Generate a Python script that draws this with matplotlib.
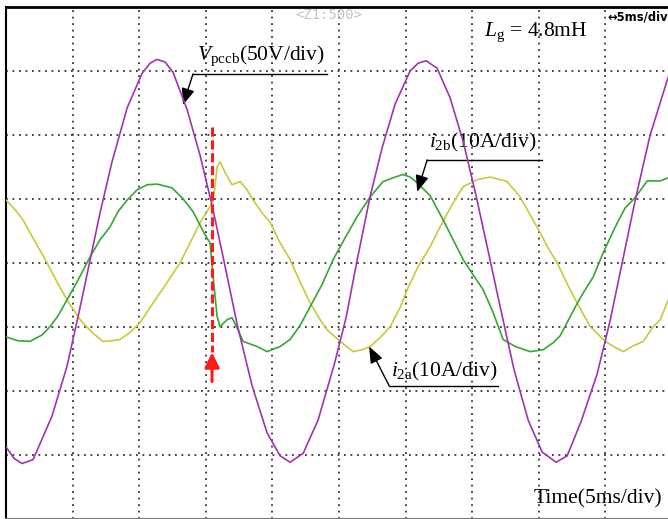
import numpy as np
import matplotlib
matplotlib.use('Agg')
import matplotlib.pyplot as plt

plt.rcParams['font.family'] = ['Liberation Serif', 'DejaVu Sans']
plt.rcParams['mathtext.fontset'] = 'custom'
plt.rcParams['mathtext.rm'] = 'Liberation Serif'
plt.rcParams['mathtext.it'] = 'Liberation Serif:italic'

# scope settings
T_DIV = 5.0     # ms/div
V_DIV = 50.0    # V/div
I_DIV = 10.0    # A/div

# V_pccb trace (time in ms, volts)
t_v = [0.00, 0.60, 1.20, 2.03, 2.70, 3.45, 4.58, 5.56, 6.31, 7.06, 7.96, 9.09,
       10.21, 10.81, 11.34, 11.94, 12.54, 13.59, 14.57, 15.47, 16.37, 17.35,
       18.47, 19.60, 20.58, 21.33, 22.31, 23.43, 24.63, 25.53, 26.36, 27.34,
       28.24, 29.21, 30.34, 30.94, 31.54, 32.37, 33.34, 34.32, 35.30, 36.20,
       37.09, 38.15, 39.20, 40.25, 41.30, 42.13, 43.18, 44.38, 45.36, 46.26,
       47.24, 48.36, 49.71]
v_pccb = [-144, -153, -157, -154, -138, -120, -81, -35, 2, 39, 79, 121,
          148, 156, 159, 157, 149, 120, 84, 45, 1, -48,
          -96, -133, -151, -156, -149, -123, -80, -43, 2, 52,
          90, 124, 150, 156, 158, 152, 129, 95, 52, 9,
          -34, -84, -123, -148, -156, -151, -124, -87, -45, 0,
          49, 100, 145]

# i_2b trace (green), amps
t_b = [0.00, 0.90, 1.80, 2.70, 3.30, 3.91, 4.58, 5.41, 6.31, 7.06, 7.81, 8.41,
       9.09, 9.84, 10.59, 11.34, 11.94, 12.47, 13.29, 14.04, 14.94, 15.32,
       15.55, 15.85, 16.07, 16.60, 16.97, 17.35, 17.80, 18.85, 19.60, 20.58,
       21.33, 22.08, 22.83, 23.73, 24.56, 25.46, 26.36, 27.34, 28.31, 29.21,
       29.81, 30.34, 30.87, 31.84, 32.82, 33.57, 34.32, 35.07, 35.82, 36.57,
       37.32, 38.23, 39.35, 40.33, 41.08, 41.61, 42.74, 43.34, 44.09, 44.84,
       45.74, 46.49, 47.24, 48.14, 49.12, 49.72]
i_2b = [-11.6, -12.2, -12.3, -11.3, -10.0, -8.3, -5.8, -2.7, 0.9, 3.6, 5.6, 8.0,
        9.8, 11.4, 12.2, 12.3, 12.0, 11.7, 10.0, 8.0, 4.4, 3.1,
        -2.2, -8.4, -10.0, -8.9, -8.6, -10.2, -12.3, -13.1, -13.9, -13.1,
        -12.0, -9.8, -6.9, -3.4, 0.5, 3.9, 7.2, 10.3, 12.7, 13.4,
        13.8, 13.4, 12.5, 10.5, 6.7, 3.6, 0.5, -1.9, -4.2, -7.8,
        -12.0, -13.1, -13.9, -13.6, -12.5, -11.4, -6.9, -4.7, -2.2, 1.6,
        5.6, 8.6, 10.2, 12.8, 12.8, 13.3]

# i_2a trace (yellow), amps
t_a = [0.00, 0.68, 1.28, 2.18, 3.08, 3.83, 4.58, 5.56, 6.46, 7.28, 7.96, 8.56,
       9.31, 10.06, 11.04, 12.09, 13.07, 13.82, 14.57, 14.94, 15.32, 15.62,
       15.85, 16.07, 16.45, 16.97, 17.57, 18.10, 18.55, 19.23, 19.83, 20.58,
       21.33, 22.08, 22.83, 23.58, 24.11, 25.08, 26.06, 26.74, 27.34, 28.09,
       28.84, 29.59, 30.12, 30.94, 31.84, 32.59, 33.49, 34.32, 35.37, 36.35,
       37.09, 37.62, 38.60, 39.35, 40.10, 40.70, 41.38, 42.13, 42.88, 43.86,
       44.84, 45.59, 46.34, 47.09, 47.84, 48.59, 49.12, 49.72]
i_2a = [9.8, 8.3, 6.7, 3.3, 0.0, -3.0, -5.8, -8.9, -10.9, -12.3, -12.2, -12.0,
        -10.9, -9.4, -6.3, -3.1, 0.0, 3.1, 6.3, 7.5, 8.8, 10.6,
        15.0, 15.8, 14.1, 12.2, 12.7, 11.4, 9.8, 7.8, 6.3, 3.1,
        0.5, -3.0, -6.3, -8.9, -10.5, -12.3, -13.9, -13.6, -13.1, -11.7,
        -10.0, -7.0, -4.2, -0.6, 2.5, 5.6, 9.1, 11.9, 13.0, 13.4,
        13.0, 12.7, 10.3, 7.5, 4.7, 2.3, 0.0, -3.3, -6.3, -10.0,
        -12.0, -13.1, -13.9, -13.0, -12.3, -10.0, -8.9, -5.8]

# switching instant marker
t_event = 15.47

purple = '#a232b4'
green = '#34a834'
yellow = '#c9c93c'

fig = plt.figure(figsize=(6.68, 5.19), dpi=100)
ax = fig.add_axes([6 / 668, 0.5 / 519, 666 / 668, 511.5 / 519])
ax.set_xlim(0, 10 * T_DIV)
ax.set_ylim(-4, 4)
ax.set_xticks([])
ax.set_yticks([])

ax.spines['right'].set_visible(False)
ax.spines['top'].set_linewidth(2.0)
ax.spines['left'].set_linewidth(1.5)
ax.spines['bottom'].set_color('#7a7a7a')
ax.spines['bottom'].set_linewidth(1.5)

# dotted scope grid
dots = (0, (1, 2.6))
for k in range(1, 10):
    ax.axvline(k * T_DIV, color='#333333', lw=1.3, ls=dots, zorder=1)
for k in range(-3, 4):
    ax.axhline(k, color='#333333', lw=1.3, ls=dots, zorder=1)

ax.plot(t_a, np.array(i_2a) / I_DIV, color=yellow, lw=1.2, zorder=3)
ax.plot(t_b, np.array(i_2b) / I_DIV, color=green, lw=1.2, zorder=3)
ax.plot(t_v, np.array(v_pccb) / V_DIV, color=purple, lw=1.2, zorder=4)

# red event marker
ax.plot([t_event, t_event], [2.125, -1.39], color='#ff1a1a', lw=2.2,
        ls=(0, (3, 1.2)), zorder=5)
ax.annotate('', xy=(t_event, -1.40), xytext=(t_event, -1.86),
            arrowprops=dict(arrowstyle='-|>,head_length=0.45,head_width=0.22',
                            color='#ff1a1a', lw=2.2, mutation_scale=20,
                            shrinkA=0, shrinkB=0), zorder=5)

# labels with leader lines
arrow_kw = dict(arrowstyle='-|>,head_length=0.5,head_width=0.2', color='black',
                lw=1.0, mutation_scale=20, shrinkA=0, shrinkB=0)
fs = 15.5

ax.text(14.34, 3.23, r'$V_{\mathrm{pccb}}$(50V/div)', fontsize=fs, va='center', ha='left')
ax.plot([14.04, 24.11], [2.953, 2.953], color='black', lw=1.0)
ax.annotate('', xy=(13.29, 2.47), xytext=(14.04, 2.953), arrowprops=arrow_kw)

ax.text(31.77, 1.875, r'$i_{\mathrm{2b}}$(10A/div)', fontsize=fs, va='center', ha='left')
ax.plot([31.62, 40.25], [1.609, 1.609], color='black', lw=1.0)
ax.annotate('', xy=(30.87, 1.11), xytext=(31.62, 1.609), arrowprops=arrow_kw)

ax.text(28.91, -1.70, r'$i_{\mathrm{2a}}$(10A/div)', fontsize=fs, va='center', ha='left')
ax.plot([28.76, 36.95], [-1.922, -1.922], color='black', lw=1.0)
ax.annotate('', xy=(27.26, -1.31), xytext=(28.76, -1.922), arrowprops=arrow_kw)

ax.text(35.90, 3.61, r'$L_{\mathrm{g}}$ = 4.8mH', fontsize=fs, va='center', ha='left')
ax.text(49.27, -3.70, 'Time(5ms/div)', fontsize=fs, va='center', ha='right')

# scope screen overlays
ax.text(24.26, 3.875, '<Z1:500>', fontsize=10, color='#c4c4c4', va='center',
        ha='center', family='DejaVu Sans Mono')
ax.text(45.13, 3.84, '\u21945ms/div', fontsize=8.3, fontweight='bold', va='center',
        ha='left', family='DejaVu Sans', clip_on=False)

fig.savefig('out.png', dpi=100)
